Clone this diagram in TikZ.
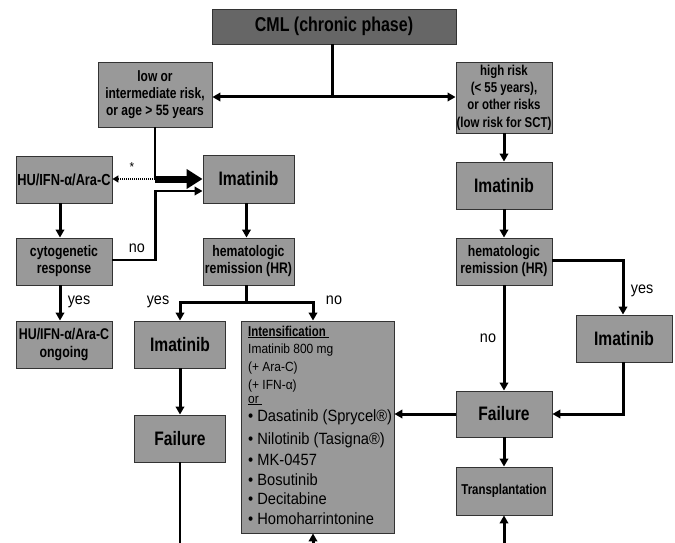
\documentclass[tikz,border=0pt]{standalone}
\usepackage{fontspec}
\setmainfont{Liberation Sans}
\newfontfamily\bfam[FakeStretch=0.8]{Liberation Sans}
\newfontfamily\rfam[FakeStretch=0.9]{Liberation Sans}
\usetikzlibrary{arrows.meta}
\definecolor{boxgray}{HTML}{999999}
\definecolor{cmlgray}{HTML}{666666}
\definecolor{edgegray}{HTML}{333333}
\newcommand{\bsz}[2]{\bfam\bfseries\fontsize{#1}{#2}\selectfont}
\newcommand{\rsz}[2]{\rfam\fontsize{#1}{#2}\selectfont}
\tikzset{
  box/.style={draw=edgegray, line width=0.9pt, fill=boxgray, inner sep=0pt, align=center},
  arr/.style={line width=3pt, -{Triangle[length=8pt,width=8.5pt]}},
  ln/.style={line width=3pt},
  thinln/.style={line width=2.2pt},
  bigarr/.style={line width=7pt, -{Triangle[length=16pt,width=19pt]}},
  dotarr/.style={line width=2.2pt, dash pattern=on 1pt off 1pt, -{Triangle[length=6pt,width=7pt]}},
  lab/.style={inner sep=0pt, font=\rsz{16}{18}},
  itxt/.style={inner sep=0pt, anchor=base west},
}
\begin{document}
\begin{tikzpicture}[x=1pt,y=-1pt]
\useasboundingbox (0,0) rectangle (675,543);

% boxes
\node[box, fill=cmlgray, minimum width=244, minimum height=35, font=\bsz{20}{24}] (cml) at (334,26.5) {CML (chronic phase)};
\node[box, minimum width=114, minimum height=65, font=\bsz{15}{17}] (low) at (155,94.5) {low or\\intermediate risk,\\or age > 55 years};
\node[box, minimum width=96, minimum height=71, font=\bsz{14.3}{17.3}] (high) at (504,97.5) {high risk\\(< 55 years),\\or other risks\\(low risk for SCT)};
\node[box, minimum width=96, minimum height=47, font=\bsz{16}{18}] (hu) at (64,179.5) {HU/IFN-α/Ara-C};
\node[box, minimum width=91, minimum height=48, font=\bsz{19.5}{22}] (im1) at (248.5,179) {Imatinib};
\node[box, minimum width=96, minimum height=47, font=\bsz{15.3}{17}] (cyto) at (64,261.5) {cytogenetic\\response};
\node[box, minimum width=91, minimum height=47, font=\bsz{15.3}{17}] (hr1) at (248.5,261.5) {hematologic\\remission (HR)};
\node[box, minimum width=96, minimum height=47, font=\bsz{15.5}{18}] (huon) at (64,344.5) {HU/IFN-α/Ara-C\\ongoing};
\node[box, minimum width=91, minimum height=47, font=\bsz{19.5}{22}] (im2) at (180,344.5) {Imatinib};
\node[box, minimum width=91, minimum height=47, font=\bsz{19.5}{22}] (fail1) at (180,438.5) {Failure};
\node[box, minimum width=153, minimum height=212] (intens) at (317.5,427) {};
\node[box, minimum width=96, minimum height=47, font=\bsz{19.5}{22}] (im3) at (504,185.5) {Imatinib};
\node[box, minimum width=96, minimum height=47, font=\bsz{15.3}{17}] (hr2) at (504,261.5) {hematologic\\remission (HR)};
\node[box, minimum width=96, minimum height=47, font=\bsz{19.5}{22}] (im4) at (624,338.5) {Imatinib};
\node[box, minimum width=96, minimum height=46, font=\bsz{19.5}{22}] (fail2) at (504,414) {Failure};
\node[box, minimum width=96, minimum height=48, font=\bsz{14.3}{17}] (trans) at (504,491) {Transplantation};

% intensification text
\node[itxt, font=\bsz{14.3}{16}] (t1) at (248,336) {\underline{Intensification\ }};
\node[itxt, font=\rsz{13.3}{15}] (t2) at (248,353) {Imatinib 800 mg};
\node[itxt, font=\rsz{13.3}{15}] (t3) at (248,371) {(+ Ara-C)};
\node[itxt, font=\rsz{13.3}{15}] (t4) at (248,389) {(+ IFN-α)};
\node[itxt, font=\rsz{13.3}{15}] (t5) at (248,403) {\underline{or\ }};
\node[itxt, font=\rsz{16.3}{18}] (t6) at (248,421) {• Dasatinib (Sprycel®)};
\node[itxt, font=\rsz{16.3}{18}] (t7) at (248,444) {• Nilotinib (Tasigna®)};
\node[itxt, font=\rsz{16.3}{18}] (t8) at (248,465) {• MK-0457};
\node[itxt, font=\rsz{16.3}{18}] (t9) at (248,485) {• Bosutinib};
\node[itxt, font=\rsz{16.3}{18}] (t10) at (248,504) {• Decitabine};
\node[itxt, font=\rsz{16.3}{18}] (t11) at (248,524) {• Homoharrintonine};

% coordinates
\coordinate (split) at (332,97);
\coordinate (j1) at (155,179);
\coordinate (j2) at (248.5,302);
\coordinate (b1) at (180,543);
\coordinate (b2) at (313,543);
\coordinate (b3) at (504,543);

% connectors
\draw[ln] (cml.south -| split) -- (split);
\draw[arr] (split) -- (split -| low.east);
\draw[arr] (split) -- (split -| high.west);
\draw[thinln] (low.south) -- (j1);
\draw[bigarr] (j1) -- (j1 -| im1.west);
\draw[dotarr] (j1) -- (j1 -| hu.east);
\draw[arr, line width=2.5pt] ([yshift=1.5pt]cyto.east) -- ++(43,0) |- ([yshift=-12pt]im1.west);
\draw[arr] ([xshift=-4pt]hu.south) -- ([xshift=-4pt]cyto.north);
\draw[arr] ([xshift=-4pt]cyto.south) -- ([xshift=-4pt]huon.north);
\draw[arr] ([xshift=-2pt]im1.south) -- ([xshift=-2pt]hr1.north);
\draw[ln] ([xshift=-2pt]hr1.south) -- ([xshift=-2pt]j2);
\draw[arr] ([xshift=-2pt]j2) -| (im2.north);
\draw[arr] ([xshift=-2pt]j2) -| ([xshift=-4.5pt]intens.north);
\draw[arr] (im2.south) -- (fail1.north);
\draw[thinln] (fail1.south) -- (b1);
\draw[arr] (b2) -- (b2 |- intens.south);
\draw[arr] (high.south) -- (im3.north);
\draw[arr] (im3.south) -- (hr2.north);
\draw[arr] ([yshift=1.5pt]hr2.east) -| ([xshift=-1pt]im4.north);
\draw[arr] (hr2.south) -- (fail2.north);
\draw[arr] ([xshift=-1pt]im4.south) |- (fail2.east);
\draw[arr] (fail2.west) -- (fail2.west -| intens.east);
\draw[arr] (fail2.south) -- (trans.north);
\draw[arr] (b3) -- (trans.south);

% labels
\node[inner sep=0pt, font=\rsz{13}{15}] (star) at (132,167) {*};
\node[lab] (lno1) at (137,248) {no};
\node[lab] (lyes1) at (79,302) {yes};
\node[lab] (lyes2) at (158,302) {yes};
\node[lab] (lno2) at (334,300) {no};
\node[lab] (lno3) at (488,338) {no};
\node[lab] (lyes3) at (642,291) {yes};
\end{tikzpicture}
\end{document}
